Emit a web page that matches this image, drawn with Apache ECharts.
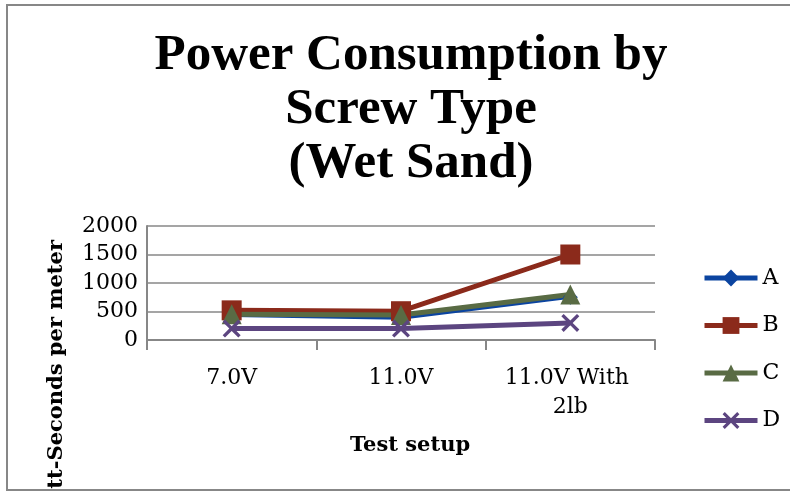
<!DOCTYPE html>
<html><head><meta charset="utf-8">
<script src="https://cdn.jsdelivr.net/npm/echarts@6/dist/echarts.min.js"></script>
<style>html,body{margin:0;padding:0;background:#fff}#c{width:790px;height:491px}</style>
</head><body><div id="c"></div>
<script>
const categories = ['7.0V', '11.0V', '11.0V With 2lb'];
const seriesA = [430, 380, 750];
const seriesB = [520, 505, 1500];
const seriesC = [450, 440, 800];
const seriesD = [200, 200, 300];
const yTicks = [0, 500, 1000, 1500, 2000];

const xPath = 'path://M0,1.3 L1.3,0 L5,3.7 L8.7,0 L10,1.3 L6.3,5 L10,8.7 L8.7,10 L5,6.3 L1.3,10 L0,8.7 L3.7,5 Z';
const serif = 'DejaVu Serif';
const gray = '#878787';

const chart = echarts.init(document.getElementById('c'));
chart.setOption({
  animation: false,
  backgroundColor: '#fff',
  title: {
    text: 'Power Consumption by\nScrew Type\n(Wet Sand)',
    left: 406, textAlign: 'center', top: 24,
    textStyle: {fontFamily: 'Liberation Serif', fontWeight: 'bold', fontSize: 51, lineHeight: 54, color: '#000'}
  },
  graphic: [
    {type: 'line', shape: {x1: 7, y1: 5, x2: 790, y2: 5}, style: {stroke: gray, lineWidth: 2}, z: 100},
    {type: 'line', shape: {x1: 7, y1: 4, x2: 7, y2: 491}, style: {stroke: gray, lineWidth: 2}, z: 100},
    {type: 'line', shape: {x1: 6, y1: 490, x2: 790, y2: 490}, style: {stroke: gray, lineWidth: 2}, z: 100},
    {type: 'text', x: 57, y: 240, rotation: Math.PI / 2,
     style: {text: 'Watt-Seconds per meter', textAlign: 'right', textVerticalAlign: 'middle',
             font: 'bold 21px "DejaVu Serif"', fill: '#000'}}
  ],
  legend: {
    orient: 'vertical', left: 697, top: 261,
    itemWidth: 53, itemHeight: 21, itemGap: 23.5,
    lineStyle: {width: 5},
    textStyle: {fontFamily: serif, fontSize: 22, lineHeight: 24, color: '#000'},
    data: ['A', 'B', 'C', 'D']
  },
  grid: {left: 147, right: 135, top: 226, bottom: 151},
  xAxis: {
    type: 'category', data: categories, boundaryGap: true,
    name: 'Test setup', nameLocation: 'middle', nameGap: 95,
    nameTextStyle: {fontFamily: serif, fontWeight: 'bold', fontSize: 21, color: '#000', padding: [0, 0, 0, 18]},
    axisLine: {lineStyle: {color: gray, width: 2}},
    axisTick: {show: true, alignWithLabel: false, length: 10, lineStyle: {color: gray, width: 2}},
    axisLabel: {fontFamily: serif, fontSize: 22, color: '#000', margin: 24, lineHeight: 29, width: 135, overflow: 'break', interval: 0}
  },
  yAxis: {
    type: 'value', min: yTicks[0], max: yTicks[yTicks.length - 1], interval: 500,
    axisLine: {show: true, lineStyle: {color: gray, width: 2}},
    axisTick: {show: false},
    splitLine: {lineStyle: {color: gray, width: 1.5}},
    axisLabel: {fontFamily: serif, fontSize: 22, color: '#000', margin: 9, formatter: v => String(v)}
  },
  series: [
    {name: 'A', type: 'line', data: seriesA, symbol: 'diamond', symbolSize: 15,
     lineStyle: {color: '#0b44a0', width: 3}, itemStyle: {color: '#0b44a0'}},
    {name: 'B', type: 'line', data: seriesB, symbol: 'rect', symbolSize: 20,
     lineStyle: {color: '#8b2a1b', width: 5}, itemStyle: {color: '#8b2a1b'}},
    {name: 'C', type: 'line', data: seriesC, symbol: 'triangle', symbolSize: 20,
     lineStyle: {color: '#596b44', width: 5}, itemStyle: {color: '#596b44'}},
    {name: 'D', type: 'line', data: seriesD, symbol: xPath, symbolSize: 18,
     lineStyle: {color: '#5c4580', width: 5}, itemStyle: {color: '#5c4580'}}
  ]
});
</script></body></html>
